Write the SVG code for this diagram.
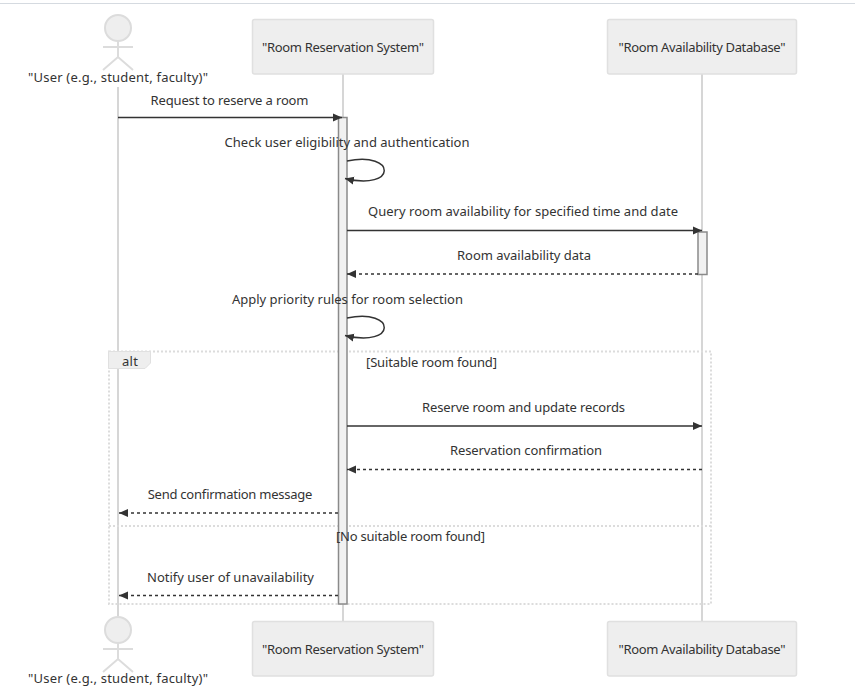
<svg xmlns="http://www.w3.org/2000/svg" width="855" height="689" viewBox="0 0 855 689">
<style>
text{font-family:"Noto Sans","DejaVu Sans",sans-serif;font-size:13px;fill:#333;text-anchor:middle;dominant-baseline:central}
.box{fill:#eee;stroke:#e0e0e0;stroke-width:1.5}
.life{stroke:#d6d6d6;stroke-width:2;fill:none}
.act{fill:#f1f1f1;stroke:#8a8a8a;stroke-width:1.5}
.msg{stroke:#333;stroke-width:1.5;fill:none}
.dash{stroke-dasharray:3 3}
.frame{fill:none;stroke:#dcdcdc;stroke-width:2;stroke-dasharray:2 2}
.stick{fill:none;stroke:#dcdcdc;stroke-width:2}
</style>
<defs>
<marker id="ah" markerUnits="userSpaceOnUse" viewBox="0 0 10 10" refX="9" refY="5" markerWidth="10" markerHeight="10" orient="auto"><path d="M0 1L9 5L0 9Z" fill="#333"/></marker>
</defs>
<rect width="855" height="689" fill="#fff"/>
<line x1="0" y1="3.500" x2="855" y2="3.500" stroke="#d5dae0" stroke-width="1"/>
<g id="lifelines">
<line class="life" x1="118" y1="87" x2="118" y2="616"/>
<line class="life" x1="343" y1="74" x2="343" y2="621"/>
<line class="life" x1="702" y1="74" x2="702" y2="621"/>
</g>
<g id="frame-alt">
<rect class="frame" x="109" y="351.500" width="602" height="252.500"/>
<line class="frame" x1="109" y1="526" x2="711" y2="526"/>
<path d="M108.500 351.500H150.500V363L145 368.500H108.500Z" fill="#eee" stroke="#e0e0e0"/>
<text x="130" y="361" textLength="16">alt</text>
</g>
<g id="activations">
<rect class="act" x="338.500" y="117.500" width="8.500" height="486.500"/>
<rect class="act" x="698" y="232" width="9" height="42.500"/>
</g>
<g id="connectors">
<line class="msg" x1="118" y1="117.500" x2="342" y2="117.500" marker-end="url(#ah)"/>
<path class="msg" d="M347 161C397 151 397 191 345 178.500" marker-end="url(#ah)"/>
<line class="msg" x1="347" y1="230.500" x2="702" y2="230.500" marker-end="url(#ah)"/>
<line class="msg dash" x1="698" y1="274" x2="347" y2="274" marker-end="url(#ah)"/>
<path class="msg" d="M347 318C397 308 397 348 345 335.500" marker-end="url(#ah)"/>
<line class="msg" x1="347" y1="426" x2="702" y2="426" marker-end="url(#ah)"/>
<line class="msg dash" x1="702" y1="469.500" x2="347" y2="469.500" marker-end="url(#ah)"/>
<line class="msg dash" x1="338" y1="513" x2="119" y2="513" marker-end="url(#ah)"/>
<line class="msg dash" x1="338" y1="595.500" x2="119" y2="595.500" marker-end="url(#ah)"/>
</g>
<g id="labels">
<text x="431.500" y="362" textLength="131">[Suitable room found]</text>
<text x="410.500" y="536" textLength="149">[No suitable room found]</text>
<text x="229.500" y="99.500" textLength="158">Request to reserve a room</text>
<text x="347" y="142" textLength="245">Check user eligibility and authentication</text>
<text x="523" y="211" textLength="310">Query room availability for specified time and date</text>
<text x="524" y="255" textLength="134">Room availability data</text>
<text x="347.500" y="299" textLength="231">Apply priority rules for room selection</text>
<text x="523.500" y="407" textLength="203">Reserve room and update records</text>
<text x="526" y="450" textLength="152">Reservation confirmation</text>
<text x="230" y="494" textLength="164.500">Send confirmation message</text>
<text x="230.500" y="577" textLength="167">Notify user of unavailability</text>
</g>
<g id="actor-user-top">
<circle class="stick" cx="118" cy="28" r="13" style="fill:#eee"/>
<path class="stick" d="M118 41V57M103 47H133M103 70L118 57L133 70"/>
<text x="118" y="77" textLength="180">"User (e.g., student, faculty)"</text>
</g>
<g id="node-system-top">
<rect class="box" x="252.500" y="19.500" width="181" height="54.500" rx="2"/>
<text x="343" y="47" textLength="162">"Room Reservation System"</text>
</g>
<g id="node-database-top">
<rect class="box" x="607.500" y="19.500" width="189" height="54.500" rx="2"/>
<text x="702" y="47" textLength="167">"Room Availability Database"</text>
</g>
<g id="actor-user-bottom">
<circle class="stick" cx="118" cy="630" r="13" style="fill:#eee"/>
<path class="stick" d="M118 643V659M103 649H133M103 672L118 659L133 672"/>
<text x="118" y="678" textLength="180">"User (e.g., student, faculty)"</text>
</g>
<g id="node-system-bottom">
<rect class="box" x="252.500" y="621.500" width="181" height="54.500" rx="2"/>
<text x="343" y="649" textLength="162">"Room Reservation System"</text>
</g>
<g id="node-database-bottom">
<rect class="box" x="607.500" y="621.500" width="189" height="54.500" rx="2"/>
<text x="702" y="649" textLength="167">"Room Availability Database"</text>
</g>
</svg>
